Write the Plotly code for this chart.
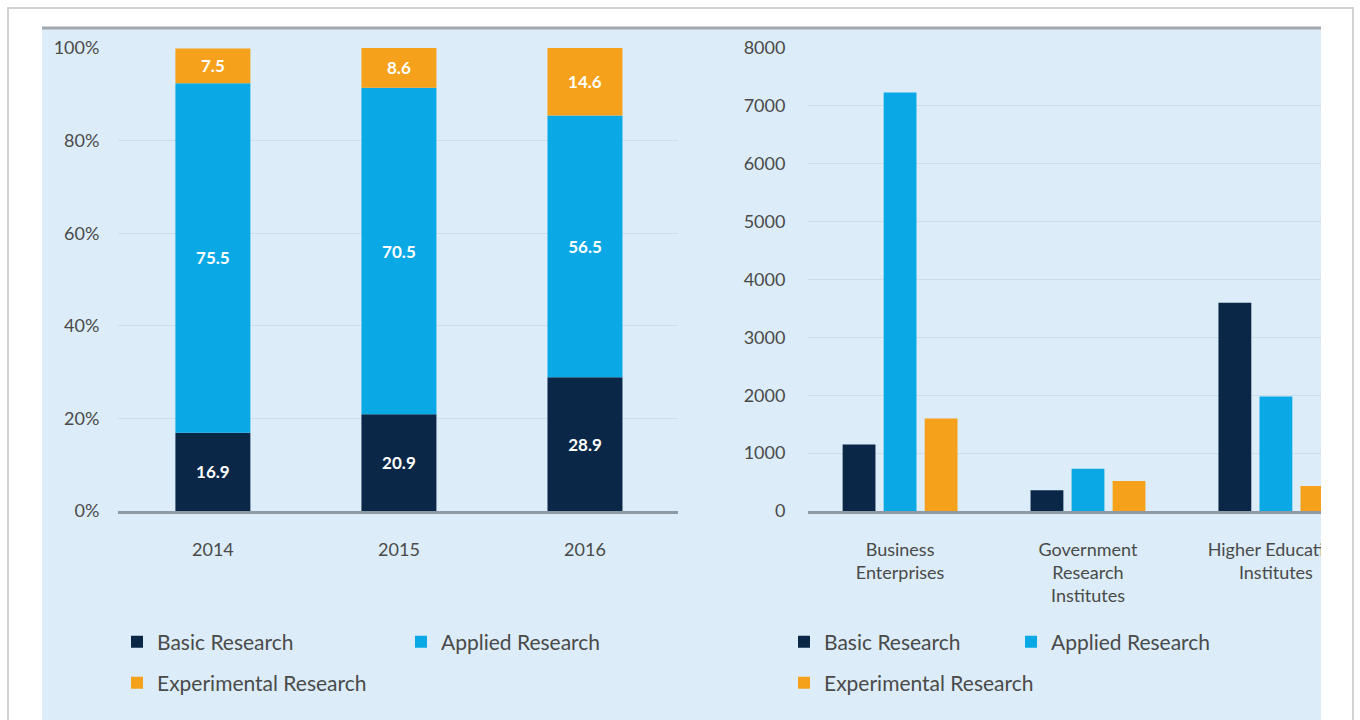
import numpy as np
import plotly.graph_objects as go

# ---- data ----
years = ["2014", "2015", "2016"]
basic_pct = [16.9, 20.9, 28.9]
applied_pct = [75.5, 70.5, 56.5]
experimental_pct = [7.5, 8.6, 14.6]

sectors = ["Business<br>Enterprises", "Government<br>Research<br>Institutes", "Higher Education<br>Institutes"]
basic_abs = [1150, 360, 3600]
applied_abs = [7230, 730, 1980]
experimental_abs = [1600, 520, 430]

pct_ticks = [0, 20, 40, 60, 80, 100]
pct_labels = ["0%", "20%", "40%", "60%", "80%", "100%"]
abs_ticks = [0, 1000, 2000, 3000, 4000, 5000, 6000, 7000, 8000]

series_names = ["Basic Research", "Applied Research", "Experimental Research"]
colors = ["#0b2748", "#0aa9e6", "#f6a11c"]

W, H = 1360, 720
def fx(px):
    return px / W
def fy(py):
    return 1 - py / H

FONT = "Lato"
TICK_COLOR = "#4a4a4a"
PANEL = "#dcedf9"

fig = go.Figure()

# left: stacked percentage bars (stacked through base)
pct_series = [basic_pct, applied_pct, experimental_pct]
bases = np.vstack([np.zeros(3), np.cumsum(np.array(pct_series), axis=0)[:-1]])
left_legends = ["legend", "legend", "legend2"]
for i, vals in enumerate(pct_series):
    fig.add_trace(go.Bar(
        x=years, y=vals, base=bases[i], name=series_names[i],
        marker=dict(color=colors[i], line=dict(width=0)),
        width=0.403, offset=-0.2015, offsetgroup="stack",
        text=[f"{v:.1f}" for v in vals], textposition="inside",
        insidetextanchor="middle", textangle=0, constraintext="none",
        textfont=dict(family=FONT, size=17, color="white", weight="bold"),
        xaxis="x", yaxis="y", legend=left_legends[i],
    ))

# right: grouped absolute bars
abs_series = [basic_abs, applied_abs, experimental_abs]
right_legends = ["legend3", "legend3", "legend4"]
for i, vals in enumerate(abs_series):
    fig.add_trace(go.Bar(
        x=sectors, y=vals, name=series_names[i],
        marker=dict(color=colors[i], line=dict(width=0)),
        xaxis="x2", yaxis="y2", legend=right_legends[i],
    ))

axis_font = dict(family=FONT, size=18, color=TICK_COLOR)
grid_color = "rgba(170,195,212,0.35)"
ydom = [fy(511), fy(48)]

fig.update_layout(
    width=W, height=H,
    margin=dict(l=0, r=0, t=0, b=0, autoexpand=False),
    paper_bgcolor="white", plot_bgcolor="rgba(0,0,0,0)",
    barmode="group", bargap=0.345, bargroupgap=0.2,
    font=dict(family=FONT, color=TICK_COLOR),
    xaxis=dict(domain=[fx(118), fx(678)], type="category", range=[-0.51, 2.5], automargin=False,
               showline=True, linecolor="#8e9ba4", linewidth=3,
               ticks="outside", ticklen=20, tickcolor="rgba(0,0,0,0)",
               tickfont=axis_font, showgrid=False, zeroline=False, fixedrange=True),
    yaxis=dict(domain=ydom, range=[0, 100], tickvals=pct_ticks, ticktext=pct_labels, automargin=False,
               showgrid=True, gridcolor=grid_color, gridwidth=1, zeroline=False,
               ticks="outside", ticklen=14, tickcolor="rgba(0,0,0,0)",
               tickfont=axis_font, showline=False),
    xaxis2=dict(domain=[fx(808), fx(1321)], anchor="y2", type="category", range=[-0.49, 2.24],
                automargin=False, showline=True, linecolor="#8e9ba4", linewidth=3,
                ticks="outside", ticklen=20, tickcolor="rgba(0,0,0,0)",
                tickfont=axis_font, showgrid=False, zeroline=False),
    yaxis2=dict(domain=ydom, anchor="x2", range=[0, 8000], tickvals=abs_ticks, automargin=False,
                showgrid=True, gridcolor=grid_color, gridwidth=1, zeroline=False,
                ticks="outside", ticklen=18, tickcolor="rgba(0,0,0,0)",
                tickfont=axis_font, showline=False),
)

legend_font = dict(family=FONT, size=21, color=TICK_COLOR)
common_leg = dict(orientation="h", xanchor="left", yanchor="middle", bgcolor="rgba(0,0,0,0)",
                  font=legend_font, traceorder="normal",
                  itemclick=False, itemdoubleclick=False)
fig.update_layout(
    legend=dict(x=fx(117), y=fy(642), entrywidth=239, entrywidthmode="pixels", **common_leg),
    legend2=dict(x=fx(117), y=fy(683), **common_leg),
    legend3=dict(x=fx(784), y=fy(642), entrywidth=182, entrywidthmode="pixels", **common_leg),
    legend4=dict(x=fx(784), y=fy(683), **common_leg),
)

shapes = [
    # light blue panel
    dict(type="rect", xref="paper", yref="paper", x0=fx(42), x1=fx(1321), y0=0, y1=fy(28),
         fillcolor=PANEL, line=dict(width=0), layer="below"),
    # panel top rule
    dict(type="line", xref="paper", yref="paper", x0=fx(42), x1=fx(1321), y0=fy(28), y1=fy(28),
         line=dict(color="#a3a8ad", width=3), layer="below"),
    # white area clipping the right chart
    dict(type="rect", xref="paper", yref="paper", x0=fx(1321), x1=fx(1352), y0=0, y1=fy(30),
         fillcolor="white", line=dict(width=0), layer="above"),
    # outer frame (three sides)
    dict(type="path", xref="paper", yref="paper",
         path=f"M {fx(8)},0 L {fx(8)},{fy(8)} L {fx(1353)},{fy(8)} L {fx(1353)},0",
         line=dict(color="#d2d2d2", width=2), layer="above"),
]
fig.update_layout(shapes=shapes)

fig.write_html("out.html", config={"displayModeBar": False},
               post_script="document.body.style.margin='0';document.documentElement.style.overflow='hidden';")
